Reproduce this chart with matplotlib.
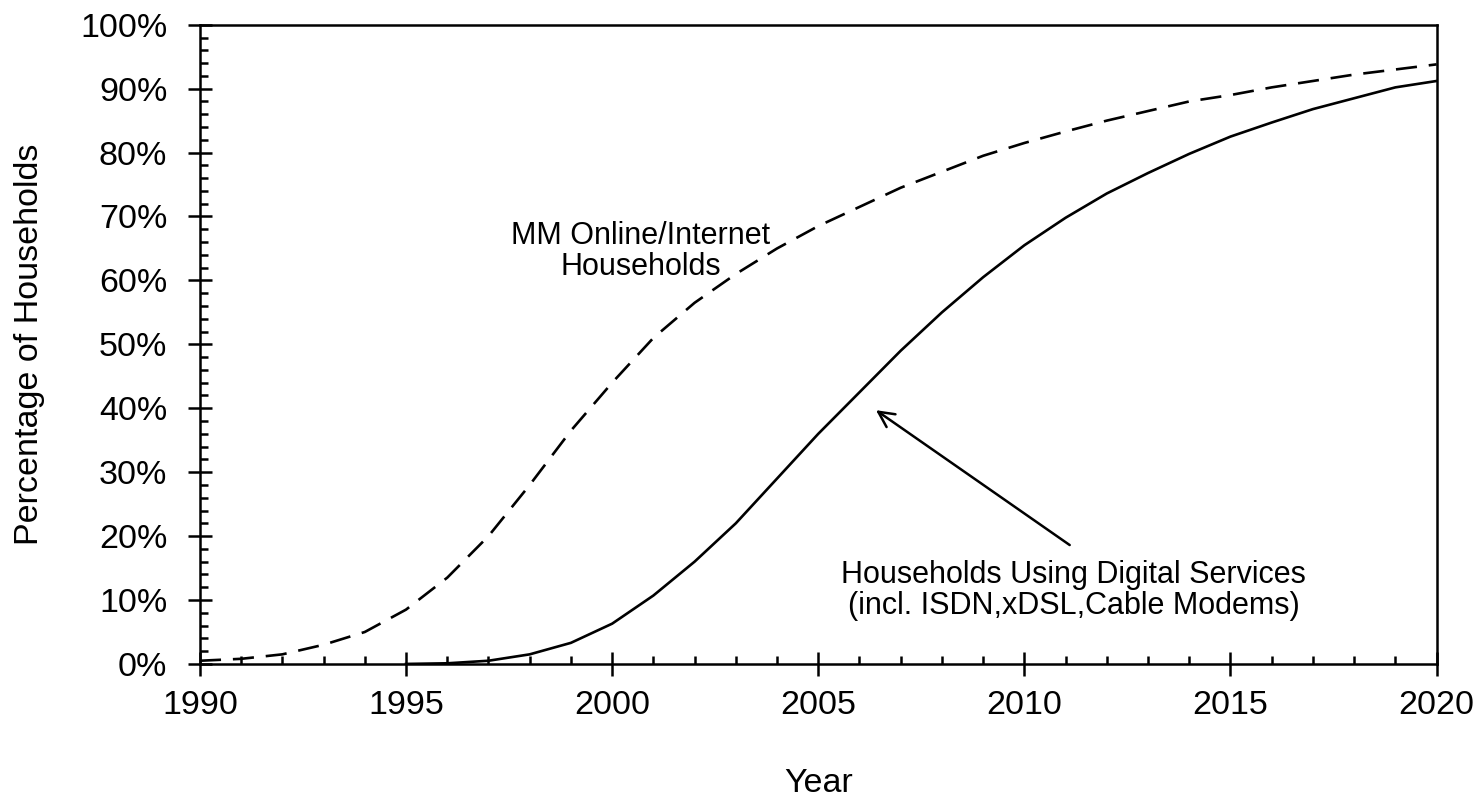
import matplotlib.pyplot as plt
from matplotlib.ticker import MultipleLocator, FuncFormatter

plt.rcParams['font.family'] = ['Liberation Sans', 'DejaVu Sans']

# MM Online/Internet households (dashed), 1990-2020
years_online = list(range(1990, 2021))
online = [0.5, 0.8, 1.5, 3.0, 5.0, 8.5, 13.5, 20, 28, 36.5,
          44, 51, 56.5, 61, 65, 68.5, 71.5, 74.5, 77, 79.5,
          81.5, 83.3, 85, 86.5, 88, 89, 90.2, 91.2, 92.2, 93, 93.8]

# households using digital services (solid), 1995-2020
years_digital = list(range(1995, 2021))
digital = [0, 0.1, 0.5, 1.5, 3.3, 6.3, 10.7, 16, 22, 29,
           36, 42.5, 49, 55, 60.5, 65.5, 69.8, 73.6, 76.8, 79.8,
           82.5, 84.7, 86.8, 88.5, 90.2, 91.2]

fig = plt.figure(figsize=(14.81, 7.98), dpi=100)
ax = fig.add_axes([0.135, 0.168, 0.835, 0.801])

ax.plot(years_online, online, color='black', lw=1.9, dashes=(8, 4.5))
ax.plot(years_digital, digital, color='black', lw=1.9)

ax.set_xlim(1990, 2020)
ax.set_ylim(0, 100)
ax.xaxis.set_major_locator(MultipleLocator(5))
ax.xaxis.set_minor_locator(MultipleLocator(1))
ax.yaxis.set_major_locator(MultipleLocator(10))
ax.yaxis.set_minor_locator(MultipleLocator(2))
ax.yaxis.set_major_formatter(FuncFormatter(lambda v, p: f'{v:.0f}%'))

ax.tick_params(which='major', direction='inout', length=17, width=1.8,
               labelsize=24.5)
ax.tick_params(axis='x', which='major', pad=10)
ax.tick_params(axis='y', which='major', pad=15)
ax.tick_params(which='minor', direction='in', length=6, width=1.8)
for s in ax.spines.values():
    s.set_linewidth(1.8)

ax.set_xlabel('Year', fontsize=24.5, labelpad=34)
ax.set_ylabel('Percentage of Households', fontsize=24.5, labelpad=25)

ax.text(2000.7, 64.5, 'MM Online/Internet\nHouseholds', fontsize=22,
        ha='center', va='center', linespacing=1.05)
ax.text(2011.2, 11.5, 'Households Using Digital Services\n(incl. ISDN,xDSL,Cable Modems)',
        fontsize=22, ha='center', va='center', linespacing=1.05)
ax.annotate('', xy=(2006.4, 39.7), xytext=(2011.1, 18.6),
            arrowprops=dict(arrowstyle='->', color='black', lw=1.8,
                            mutation_scale=28, shrinkA=0, shrinkB=0))

fig.savefig('out.png', dpi=100)
